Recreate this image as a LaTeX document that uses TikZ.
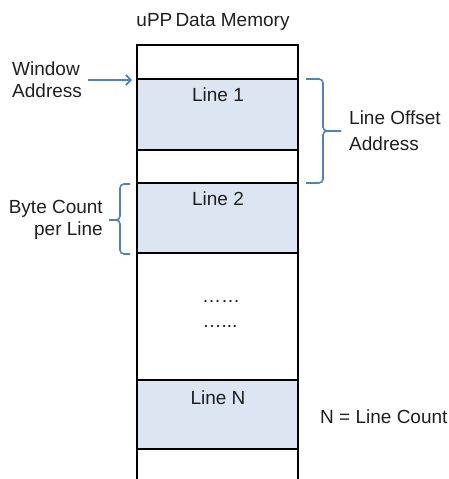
\documentclass[tikz,border=0pt]{standalone}
\usepackage{fontspec}
\setmainfont{Liberation Sans}
\usetikzlibrary{arrows.meta}
\definecolor{cellfill}{HTML}{DCE6F2}
\definecolor{accent}{HTML}{4F81BD}
\definecolor{ink}{HTML}{1F1F1F}
\begin{document}
\begin{tikzpicture}[x=1pt,y=-1pt,
  lbl/.style={font=\fontsize{19}{22}\selectfont, text=ink, inner sep=0pt},
  wall/.style={line width=2.2pt, black},
  bracestyle/.style={accent, line width=1.6pt, rounded corners=4pt},
  pointer/.style={accent, line width=1.6pt, -{Straight Barb[length=5pt,width=10pt]}}]
\useasboundingbox (0,0) rectangle (449,479);
% filled line cells
\fill[cellfill] (137,79) rectangle (298,150);
\fill[cellfill] (137,183) rectangle (298,253);
\fill[cellfill] (137,380) rectangle (298,449);
% column walls and separators
\draw[wall] (137,479) -- (137,45) -- (298,45) -- (298,479);
\foreach \yy in {79,150,183,253,380,449} \draw[wall] (137,\yy) -- (298,\yy);
% texts
\node[lbl, anchor=base] (title) at (213,26) {uPP\,Data Memory};
\node[lbl, anchor=base] (l1) at (218,101) {Line 1};
\node[lbl, anchor=base] (l2) at (218,205) {Line 2};
\node[lbl, anchor=base] (d1) at (221,302) {……};
\node[lbl, anchor=base] (d2) at (220,327) {…...};
\node[lbl, anchor=base] (ln) at (218,404) {Line N};
\node[lbl, anchor=base west] (nlc) at (320,423) {N = Line Count};
\node[lbl, anchor=base west] (wa) at (12,75) {Window};
\node[lbl, anchor=base west] (wb) at (12,97) {Address};
\node[lbl, anchor=base west] (loa) at (349,124) {Line Offset};
\node[lbl, anchor=base west] (lob) at (349,150) {Address};
\node[lbl, anchor=base east] (bca) at (103,213) {Byte Count};
\node[lbl, anchor=base east] (bcb) at (103,235) {per Line};
% window pointer
\coordinate (ws) at (88,80);
\coordinate (we) at (132,80);
\draw[pointer] (ws) -- (we);
% line offset brace
\coordinate (rt) at (306,79);
\coordinate (rm) at (341,131);
\coordinate (rb) at (306,183);
\draw[bracestyle] (rt) -| (323,131) -- (rm);
\draw[bracestyle] (rm) -- (323,131) |- (rb);
% byte count brace
\coordinate (lt) at (130,184);
\coordinate (lm) at (109,220);
\coordinate (lb) at (130,254);
\draw[bracestyle] (lt) -| (120,220) -- (lm);
\draw[bracestyle] (lm) -- (120,220) |- (lb);
\end{tikzpicture}
\end{document}
